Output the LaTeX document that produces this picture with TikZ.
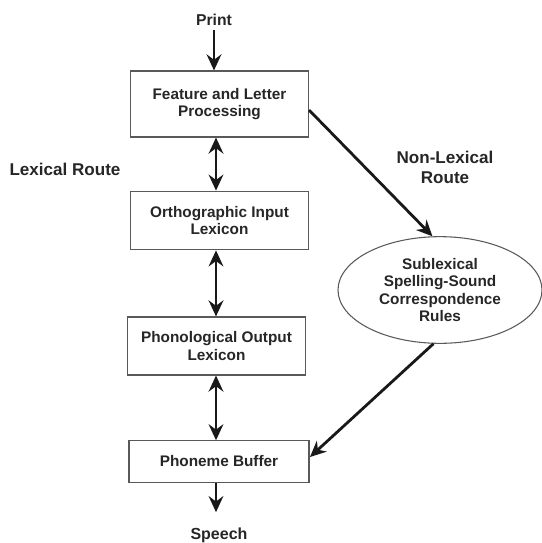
\documentclass[tikz,border=0pt]{standalone}
\usepackage{fontspec}
\setmainfont{Liberation Sans}
\usetikzlibrary{arrows.meta,shapes.geometric}
\begin{document}
\begin{tikzpicture}[x=0.75pt,y=-0.75pt,
  lbl/.style={font=\fontsize{11.5}{13}\selectfont\bfseries, align=center, text=black!85},
  big/.style={lbl, font=\fontsize{12.8}{15}\selectfont\bfseries},
  box/.style={lbl, draw=black!65, line width=0.8pt, inner sep=0pt, minimum width=134pt},
  ell/.style={lbl, ellipse, draw=black!65, line width=0.8pt, inner sep=0pt, minimum width=153pt, minimum height=80pt},
  arr/.style={line width=2.1pt, black!90, -{Stealth[length=12pt,width=11pt,inset=4pt]}},
  dbl/.style={line width=2.1pt, black!90, {Stealth[length=12pt,width=11pt,inset=4pt]}-{Stealth[length=12pt,width=11pt,inset=4pt]}}
]
\useasboundingbox (0,0) rectangle (542,543);
\node[lbl, font=\fontsize{11.8}{13}\selectfont\bfseries] (print) at (214,20) {Print};
\node[box, minimum height=49.5pt] (feat) at (219.5,104) {Feature and Letter\\Processing};
\node[box, minimum height=44pt] (ortho) at (219.5,220.5) {Orthographic Input\\Lexicon};
\node[box, minimum height=43.5pt] (phono) at (216.5,346) {Phonological Output\\Lexicon};
\node[box, minimum width=135pt, minimum height=31pt] (pb) at (219,461.5) {Phoneme Buffer};
\node[lbl, font=\fontsize{12}{13}\selectfont\bfseries] (speech) at (219,535) {Speech};
\node[big] (lex) at (65,169) {Lexical Route};
\node[big] (nonlex) at (445,167) {Non-Lexical\\Route};
\node[ell] (rules) at (440,290) {Sublexical\\Spelling-Sound\\Correspondence\\Rules};
\coordinate (ax) at (216,0);
\coordinate (fe) at (309,110);
\coordinate (pe) at (310,457);
\draw[arr] (print) -- (print |- feat.north);
\draw[dbl] (feat.south -| ax) -- (ortho.north -| ax);
\draw[dbl] (ortho.south -| ax) -- (phono.north -| ax);
\draw[dbl] (phono.south -| ax) -- (pb.north -| ax);
\draw[arr] (pb.south -| ax) -- ([yshift=8pt]speech.north -| ax);
\draw[arr] (fe) -- (rules.98);
\draw[arr] (rules.263) -- (pe);
\end{tikzpicture}
\end{document}
